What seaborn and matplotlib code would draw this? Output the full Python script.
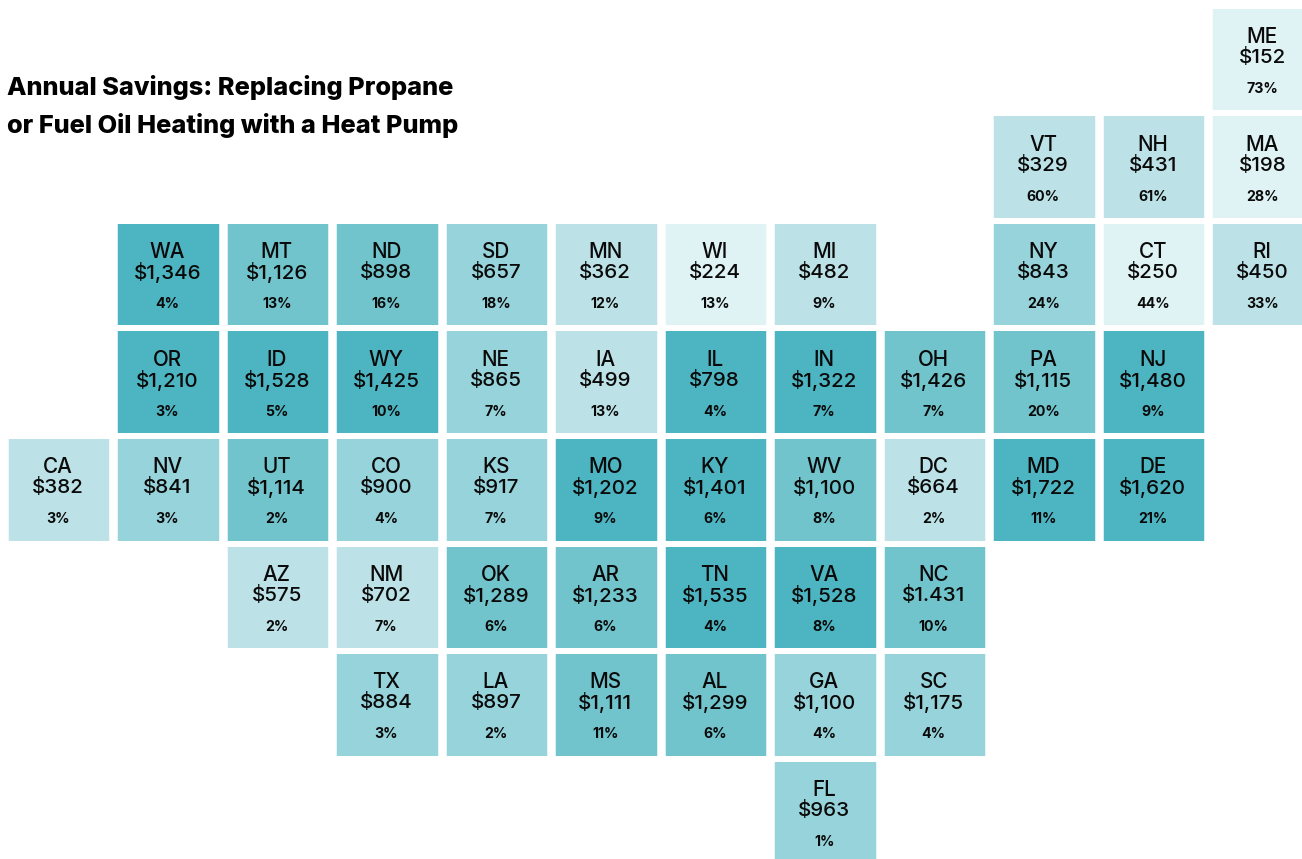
import numpy as np
import pandas as pd
import seaborn as sns
import matplotlib.pyplot as plt
from matplotlib.colors import ListedColormap

W, H = 1302, 859

# tile map layout, one string per row
layout = [
    "-- -- -- -- -- -- -- -- -- -- -- ME",
    "-- -- -- -- -- -- -- -- -- VT NH MA",
    "-- WA MT ND SD MN WI MI -- NY CT RI",
    "-- OR ID WY NE IA IL IN OH PA NJ --",
    "CA NV UT CO KS MO KY WV DC MD DE --",
    "-- -- AZ NM OK AR TN VA NC -- -- --",
    "-- -- -- TX LA MS AL GA SC -- -- --",
    "-- -- -- -- -- -- -- FL -- -- -- --",
]

states = ["ME", "VT", "NH", "MA", "WA", "MT", "ND", "SD", "MN", "WI", "MI", "NY", "CT", "RI",
          "OR", "ID", "WY", "NE", "IA", "IL", "IN", "OH", "PA", "NJ",
          "CA", "NV", "UT", "CO", "KS", "MO", "KY", "WV", "DC", "MD", "DE",
          "AZ", "NM", "OK", "AR", "TN", "VA", "NC",
          "TX", "LA", "MS", "AL", "GA", "SC", "FL"]
savings = ["$152", "$329", "$431", "$198", "$1,346", "$1,126", "$898", "$657", "$362", "$224", "$482", "$843", "$250", "$450",
           "$1,210", "$1,528", "$1,425", "$865", "$499", "$798", "$1,322", "$1,426", "$1,115", "$1,480",
           "$382", "$841", "$1,114", "$900", "$917", "$1,202", "$1,401", "$1,100", "$664", "$1,722", "$1,620",
           "$575", "$702", "$1,289", "$1,233", "$1,535", "$1,528", "$1.431",
           "$884", "$897", "$1,111", "$1,299", "$1,100", "$1,175", "$963"]
shares = ["73%", "60%", "61%", "28%", "4%", "13%", "16%", "18%", "12%", "13%", "9%", "24%", "44%", "33%",
          "3%", "5%", "10%", "7%", "13%", "4%", "7%", "7%", "20%", "9%",
          "3%", "3%", "2%", "4%", "7%", "9%", "6%", "8%", "2%", "11%", "21%",
          "2%", "7%", "6%", "6%", "4%", "8%", "10%",
          "3%", "2%", "11%", "6%", "4%", "4%", "1%"]
levels = [0, 1, 1, 0, 4, 3, 3, 2, 1, 0, 1, 2, 0, 1,
          4, 4, 4, 2, 1, 4, 4, 3, 3, 4,
          1, 2, 3, 2, 2, 4, 4, 3, 1, 4, 4,
          1, 1, 3, 3, 4, 4, 3,
          2, 2, 3, 3, 2, 2, 2]
level_colors = ["#DFF2F4", "#BCE2E7", "#97D3DA", "#71C4CC", "#4DB4C1"]

title_lines = ["Annual Savings: Replacing Propane", "or Fuel Oil Heating with a Heat Pump"]

sns.set_theme(style="white")
plt.rcParams["font.family"] = ["Inter", "DejaVu Sans"]

grid = pd.DataFrame([row.split() for row in layout])
level_of = dict(zip(states, levels))
values = grid.map(lambda s: level_of.get(s, np.nan)).astype(float)

fig = plt.figure(figsize=(W / 100, H / 100), dpi=100)
# the map runs slightly off the right and bottom edges, as in the original
ax = fig.add_axes([3.5 / W, 1 - 866.3 / H, 1314 / W, 860.6 / H])
sns.heatmap(values, ax=ax, cmap=ListedColormap(level_colors), vmin=-0.5, vmax=4.5,
            cbar=False, xticklabels=False, yticklabels=False, linewidths=0)

# white gutters, wider between columns than between rows
ax.vlines(np.arange(grid.shape[1] + 1), 0, grid.shape[0], color="white", lw=8.5 * 0.72)
ax.hlines(np.arange(grid.shape[0] + 1), 0, grid.shape[1], color="white", lw=6 * 0.72)
ax.set_xlabel("")
ax.set_ylabel("")
sns.despine(ax=ax, left=True, bottom=True)

for state, saved, share in zip(states, savings, shares):
    r, c = np.argwhere(grid.values == state)[0]
    xy = (c + 0.5, r + 0.5)
    for txt, dy, size, weight in [(state, 22.5, 14.9, "medium"), (saved, 2, 14.8, "medium"), (share, -29.5, 10.2, "bold")]:
        ax.annotate(txt, xy=xy, xytext=(-0.5, dy), textcoords="offset pixels", ha="center", va="center",
                    fontsize=size, fontweight=weight, color="#0a0a0a", annotation_clip=False)

for line, y in zip(title_lines, [88, 125]):
    fig.text(7 / W, 1 - y / H, line, fontsize=18.3, fontweight="heavy", color="black", ha="left", va="center")

fig.savefig("out.png", dpi=100, facecolor="white")
